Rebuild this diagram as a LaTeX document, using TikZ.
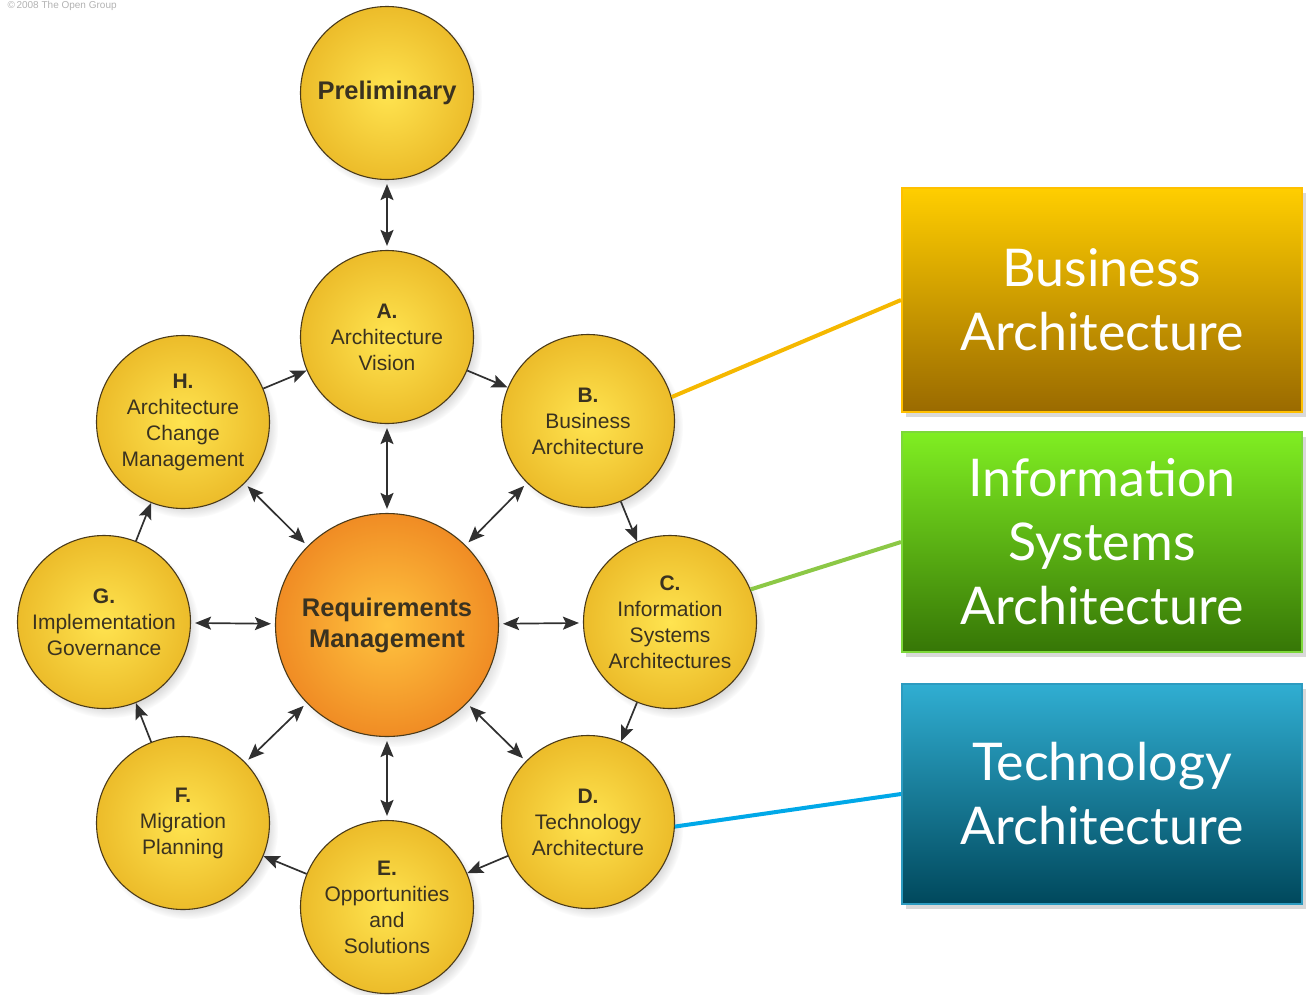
\documentclass[tikz,border=0pt]{standalone}
\usepackage{fontspec}
\setmainfont{Liberation Sans}
\newfontfamily\circfont{Liberation Sans}
\newfontfamily\boxfont{Lato}
\usetikzlibrary{arrows.meta,shadows}
\definecolor{circtext}{HTML}{3A3220}
\definecolor{circline}{HTML}{4A3A1A}
\definecolor{arrgray}{HTML}{303030}
\definecolor{phasein}{RGB}{255,228,80}
\definecolor{phaseout}{RGB}{236,188,42}
\definecolor{reqin}{RGB}{255,196,64}
\definecolor{reqout}{RGB}{240,140,36}
\begin{document}
\begin{tikzpicture}[x=1pt,y=-1pt,
  phase/.style={circle, minimum size=173pt, inner sep=0pt, draw=circline, line width=1.1pt,
    inner color=phasein, outer color=phaseout,
    circular drop shadow={shadow xshift=5pt, shadow yshift=-6pt, shadow scale=1.04, opacity=0.35},
    align=center, text=circtext, font=\circfont\fontsize{21}{26}\selectfont},
  reqstyle/.style={phase, minimum size=223pt, inner color=reqin, outer color=reqout,
    font=\circfont\bfseries\fontsize{25.5}{31}\selectfont},
  tip/.tip={Stealth[length=16pt,width=13pt,inset=3pt]},
  arr/.style={draw=arrgray, line width=1.7pt, -tip},
  darr/.style={draw=arrgray, line width=1.7pt, tip-tip, shorten <=4pt, shorten >=4pt},
  archbox/.style={rectangle, minimum width=400pt, line width=2pt, align=center, text=white,
    font=\boxfont\fontsize{52}{64}\selectfont,
    drop shadow={shadow xshift=4pt, shadow yshift=-5pt, opacity=0.3}},
  link/.style={line width=4pt}
]
\useasboundingbox (0,0) rectangle (1307,994);

\node[text=black!30, font=\circfont\fontsize{10}{11}\selectfont, anchor=west] (copy) at (4,6) {\copyright\,2008 The Open Group};

\node[phase, font=\circfont\bfseries\fontsize{25.5}{31}\selectfont] (prelim) at (387,93) {Preliminary};
\node[phase] (a) at (387,337) {\textbf{A.}\\Architecture\\Vision};
\node[phase] (b) at (588,421) {\textbf{B.}\\Business\\Architecture};
\node[phase] (c) at (670,622) {\textbf{C.}\\Information\\Systems\\Architectures};
\node[phase] (d) at (588,822) {\textbf{D.}\\Technology\\Architecture};
\node[phase] (e) at (387,907) {\textbf{E.}\\Opportunities\\and\\Solutions};
\node[phase] (f) at (183,823) {\textbf{F.}\\Migration\\Planning};
\node[phase] (g) at (104,622) {\textbf{G.}\\Implementation\\Governance};
\node[phase] (h) at (183,422) {\textbf{H.}\\Architecture\\Change\\Management};
\node[reqstyle] (req) at (387,625) {Requirements\\Management};

% cycle arrows
\draw[arr] (a) -- (b);
\draw[arr] (b) -- (c);
\draw[arr] (c) -- (d);
\draw[arr] (d) -- (e);
\draw[arr] (e) -- (f);
\draw[arr] (f) -- (g);
\draw[arr] (g) -- (h);
\draw[arr] (h) -- (a);
\draw[darr] (prelim) -- (a);

% spokes
\foreach \n in {a,b,c,d,e,f,g,h}
  \draw[darr] (req) -- (\n);

% architecture boxes
\node[archbox, minimum height=224pt, draw={rgb,255:red,255;green,192;blue,0},
  top color={rgb,255:red,255;green,206;blue,0}, bottom color={rgb,255:red,154;green,106;blue,0}] (bbox) at (1102,300) {Business\\Architecture};
\node[archbox, minimum height=220pt, draw={rgb,255:red,125;green,216;blue,58},
  top color={rgb,255:red,128;green,238;blue,34}, bottom color={rgb,255:red,54;green,118;blue,6}] (ibox) at (1102,542) {Information\\Systems\\Architecture};
\node[archbox, minimum height=220pt, draw={rgb,255:red,44;green,155;blue,192},
  top color={rgb,255:red,48;green,174;blue,210}, bottom color={rgb,255:red,0;green,72;blue,92}] (tbox) at (1102,794) {Technology\\Architecture};

\draw[link, draw={rgb,255:red,245;green,184;blue,0}] (b.16) -- (bbox.west);
\draw[link, draw={rgb,255:red,140;green,200;blue,70}] (c.22) -- (ibox.west);
\draw[link, draw={rgb,255:red,0;green,168;blue,232}] (d.-3) -- (tbox.west);
\end{tikzpicture}
\end{document}
